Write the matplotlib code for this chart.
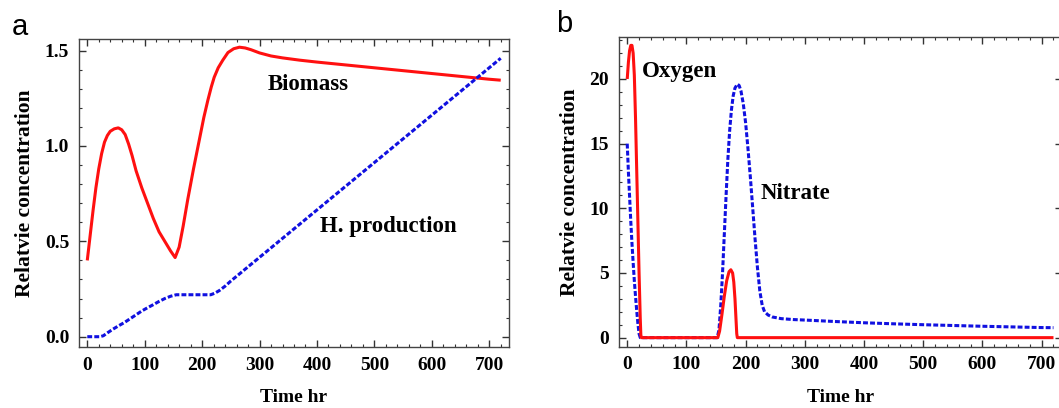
import matplotlib
matplotlib.use("Agg")
import matplotlib.pyplot as plt
from matplotlib.ticker import MultipleLocator

# ---- panel a: biomass and H. production over time ----
biomass_t = [0, 5, 10, 15, 20, 25, 30, 35, 40, 47, 54, 60, 66, 72, 78, 85, 95, 105,
             115, 125, 135, 145, 153, 160, 167, 175, 185, 195, 203, 210, 216, 221,
             228, 236, 245, 255, 265, 275, 285, 300, 320, 340, 370, 400, 450, 500,
             550, 600, 650, 700, 720]
biomass = [0.40, 0.53, 0.66, 0.78, 0.88, 0.96, 1.02, 1.055, 1.077, 1.09, 1.095, 1.085,
           1.06, 1.01, 0.95, 0.87, 0.78, 0.70, 0.62, 0.55, 0.50, 0.45, 0.415, 0.47,
           0.58, 0.72, 0.88, 1.03, 1.15, 1.24, 1.31, 1.36, 1.41, 1.45, 1.49, 1.51,
           1.518, 1.514, 1.505, 1.488, 1.472, 1.462, 1.450, 1.440, 1.425, 1.410,
           1.395, 1.380, 1.365, 1.350, 1.345]

hprod_t = [0, 22, 28, 35, 45, 55, 65, 75, 85, 95, 105, 115, 125, 135, 145, 155, 215,
           222, 230, 240, 250, 720]
hprod = [0.0, 0.0, 0.005, 0.02, 0.04, 0.058, 0.075, 0.095, 0.115, 0.135, 0.152, 0.168,
         0.185, 0.20, 0.212, 0.22, 0.22, 0.228, 0.242, 0.265, 0.292, 1.46]

# ---- panel b: oxygen and nitrate over time ----
oxygen_t = [0, 2, 4, 6, 8, 10, 12, 14, 16, 18, 20, 22, 23, 24, 153, 156, 160, 164, 168,
            172, 175, 178, 180, 182, 184, 185, 186, 720]
oxygen = [20.0, 21.3, 22.2, 22.6, 22.6, 22.0, 20.3, 17.0, 13.0, 9.0, 5.0, 1.5, 0.2, 0.0,
          0.0, 0.5, 1.8, 3.2, 4.4, 5.1, 5.25, 5.0, 4.3, 3.0, 1.2, 0.3, 0.0, 0.0]

nitrate_t = [0, 2, 4, 6, 8, 10, 12, 14, 16, 18, 20, 22, 152, 155, 158, 161, 164, 167,
             170, 173, 176, 179, 182, 186, 189, 192, 196, 200, 204, 208, 212, 216, 220,
             224, 228, 232, 238, 245, 260, 280, 300, 350, 400, 450, 500, 550, 600, 650,
             700, 720]
nitrate = [15.0, 12.8, 10.9, 9.0, 7.3, 5.8, 4.4, 3.2, 2.1, 1.1, 0.3, 0.0, 0.0, 0.6, 2.5,
           5.0, 8.0, 11.0, 13.8, 16.0, 17.6, 18.7, 19.3, 19.6, 19.5, 19.1, 18.1, 16.6,
           14.6, 12.4, 10.0, 7.6, 5.4, 3.6, 2.5, 2.0, 1.75, 1.6, 1.47, 1.4, 1.36, 1.25,
           1.15, 1.07, 1.0, 0.94, 0.88, 0.83, 0.78, 0.77]

x_ticks = [0, 100, 200, 300, 400, 500, 600, 700]
a_yticks = [0.0, 0.5, 1.0, 1.5]
b_yticks = [0, 5, 10, 15, 20]

SERIF = "Liberation Serif"
RED = "#ff1010"
BLUE = "#1010e0"
DASH = (1.6, 0.7)
LW = 2.2

W, H = 1059, 408
fig = plt.figure(figsize=(W / 100, H / 100), dpi=100)


def px_axes(left, right, top, bottom):
    return fig.add_axes([left / W, (H - bottom) / H, (right - left) / W, (bottom - top) / H])


def style(ax, ymajor, yminor, xt, yt, ylabels=None):
    ax.set_xlim(-14.4, 734.4)
    ax.set_xticks(xt)
    ax.set_yticks(yt)
    if ylabels is not None:
        ax.set_yticklabels(ylabels)
    ax.xaxis.set_minor_locator(MultipleLocator(20))
    ax.yaxis.set_minor_locator(MultipleLocator(yminor))
    ax.tick_params(which="both", direction="in", top=True, right=True, color="#333333")
    ax.tick_params(which="major", length=5, width=1, pad=7)
    ax.tick_params(which="minor", length=2.5, width=0.8)
    for s in ax.spines.values():
        s.set_color("#444444")
        s.set_linewidth(1.0)
    for lab in ax.get_xticklabels() + ax.get_yticklabels():
        lab.set_fontfamily(SERIF)
        lab.set_fontweight("bold")
        lab.set_fontsize(14)
    ax.set_xlabel("Time hr", fontfamily=SERIF, fontweight="bold", fontsize=14, labelpad=11)
    ax.set_ylabel("Relatvie concentration", fontfamily=SERIF, fontweight="bold",
                  fontsize=15.5, labelpad=7)


# panel a
ax1 = px_axes(79, 509, 39, 347)
ax1.plot(biomass_t, biomass, color=RED, lw=LW, solid_capstyle="butt")
ax1.plot(hprod_t, hprod, color=BLUE, lw=LW, dashes=DASH)
ax1.set_ylim(-0.054, 1.561)
style(ax1, 0.5, 0.1, x_ticks, a_yticks, [f"{v:.1f}" for v in a_yticks])
ax1.text(314, 1.325, "Biomass", fontfamily=SERIF, fontweight="bold", fontsize=16.5,
         ha="left", va="center")
ax1.text(406, 0.577, "H. production", fontfamily=SERIF, fontweight="bold", fontsize=16.5,
         ha="left", va="center")

# panel b
ax2 = px_axes(618.7, 1062, 36.7, 346.7)
ax2.plot(nitrate_t, nitrate, color=BLUE, lw=LW, dashes=DASH)
ax2.plot(oxygen_t, oxygen, color=RED, lw=LW, solid_capstyle="butt")
ax2.set_ylim(-0.70, 23.27)
style(ax2, 5, 1, x_ticks, b_yticks)
ax2.text(24, 20.6, "Oxygen", fontfamily=SERIF, fontweight="bold", fontsize=16.5,
         ha="left", va="center")
ax2.text(224.7, 11.16, "Nitrate", fontfamily=SERIF, fontweight="bold", fontsize=16.5,
         ha="left", va="center")

# panel letters
fig.text(20 / W, 1 - 27 / H, "a", fontfamily="Liberation Sans", fontsize=21,
         ha="center", va="center")
fig.text(564 / W, 1 - 24 / H, "b", fontfamily="Liberation Sans", fontsize=21,
         ha="center", va="center")

fig.savefig("out.png", dpi=100)
